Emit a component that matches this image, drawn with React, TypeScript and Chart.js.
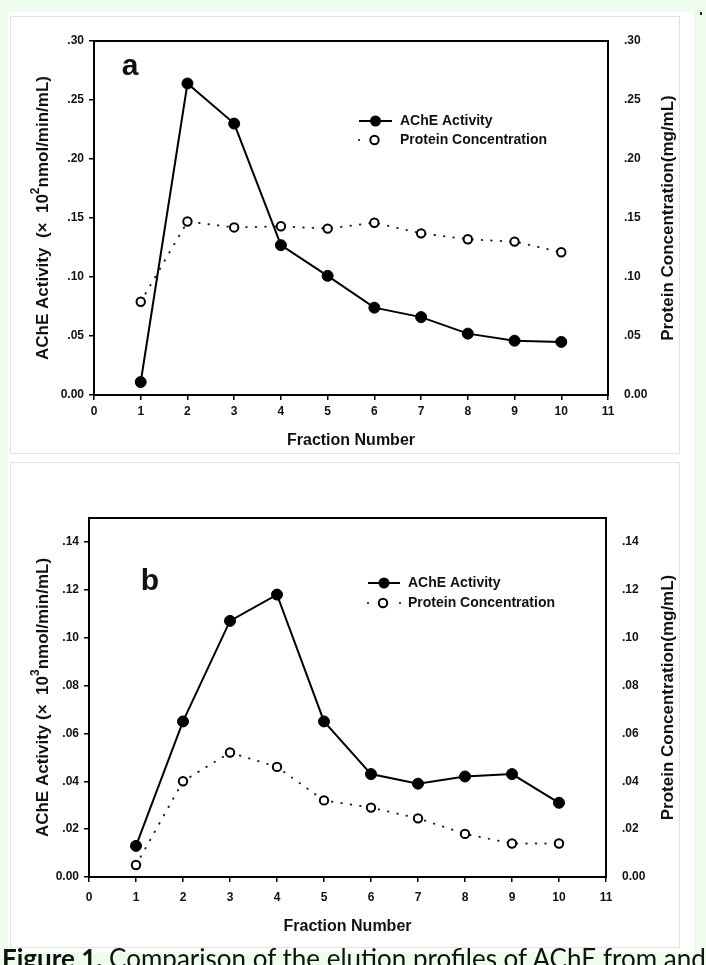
import React, { useEffect, useRef } from "react";
import { Chart, registerables } from "chart.js";

Chart.register(...registerables);

// ---------- data ----------
const fractions = [1, 2, 3, 4, 5, 6, 7, 8, 9, 10];

const acheActivityA = [0.011, 0.264, 0.23, 0.127, 0.101, 0.074, 0.066, 0.052, 0.046, 0.045];
const proteinA = [0.079, 0.147, 0.142, 0.143, 0.141, 0.146, 0.137, 0.132, 0.13, 0.121];

const acheActivityB = [0.013, 0.065, 0.107, 0.118, 0.065, 0.043, 0.039, 0.042, 0.043, 0.031];
const proteinB = [0.005, 0.04, 0.052, 0.046, 0.032, 0.029, 0.0245, 0.018, 0.014, 0.014];

const seriesNames = ["AChE Activity", "Protein Concentration"];
const xAxisTitle = "Fraction Number";
const rightAxisTitle = "Protein Concentration(mg/mL)";
const leftTitleA = ["AChE Activity  (×  10", "2", "nmol/min/mL)"];
const leftTitleB = ["AChE Activity (×  10", "3", "nmol/min/mL)"];
const captionBold = "Figure 1.";
const captionRest = " Comparison of the elution profiles of AChE from and";

// ---------- styles ----------
const INK = "#111111";
const FONT = '"Liberation Sans", Arial, Helvetica, sans-serif';
const GREEN = "#eefcee";

const fmtTick = (v: number) =>
  Math.abs(v) < 1e-9 ? "0.00" : Number(v).toFixed(2).replace(/^0/, "");

type Spec = {
  key: string;
  x: number; y: number; w: number; h: number;
  areaLeft: number; areaRightW: number; areaTop: number; xAxisH: number; xPad: number;
  yMax: number; yStep: number;
  ache: number[]; protein: number[];
  letter: string; letterX: number; letterY: number;
  xTitleY: number; leftTitleX: number; rightTitleX: number;
  leftTitle: string[];
  legY1: number; legY2: number; legX0: number; legX1: number; legTextX: number;
  legDots: number[];
};

const specA: Spec = {
  key: "a",
  x: 10, y: 16, w: 673, h: 438,
  areaLeft: 84, areaRightW: 75, areaTop: 25, xAxisH: 59, xPad: 4,
  yMax: 0.3, yStep: 0.05,
  ache: acheActivityA, protein: proteinA,
  letter: "a", letterX: 120, letterY: 51,
  xTitleY: 425, leftTitleX: 33, rightTitleX: 658,
  leftTitle: leftTitleA,
  legY1: 105, legY2: 124, legX0: 349, legX1: 382, legTextX: 390,
  legDots: [349],
};

const specB: Spec = {
  key: "b",
  x: 10, y: 462, w: 673, h: 486,
  areaLeft: 79, areaRightW: 77, areaTop: 56, xAxisH: 71, xPad: 8,
  yMax: 0.15, yStep: 0.02,
  ache: acheActivityB, protein: proteinB,
  letter: "b", letterX: 140, letterY: 120,
  xTitleY: 465, leftTitleX: 33, rightTitleX: 658,
  leftTitle: leftTitleB,
  legY1: 121, legY2: 141, legX0: 358, legX1: 390, legTextX: 398,
  legDots: [358, 390],
};

const pts = (ys: number[]) => fractions.map((f, i) => ({ x: f, y: ys[i] }));

function buildConfig(s: Spec): any {
  const tickFont = { family: FONT, size: 12, weight: "bold" as const };
  const TITLE = `bold 17px ${FONT}`;
  const decor = {
    id: "decor_" + s.key,
    afterDatasetsDraw(chart: any) {
      const { ctx, chartArea: ca } = chart;
      ctx.save();
      ctx.strokeStyle = "#000";
      ctx.lineWidth = 2;
      ctx.strokeRect(ca.left, ca.top, ca.right - ca.left, ca.bottom - ca.top);

      ctx.fillStyle = INK;
      ctx.textBaseline = "middle";
      ctx.textAlign = "center";
      ctx.font = `bold 30px ${FONT}`;
      ctx.fillText(s.letter, s.letterX, s.letterY);

      ctx.font = `bold 16px ${FONT}`;
      ctx.fillText(xAxisTitle, (ca.left + ca.right) / 2, s.xTitleY);

      const cy = (ca.top + ca.bottom) / 2;
      // left title with superscript
      ctx.save();
      ctx.translate(s.leftTitleX, cy);
      ctx.rotate(-Math.PI / 2);
      const [pre, sup, post] = s.leftTitle;
      ctx.font = TITLE;
      const w1 = ctx.measureText(pre).width;
      const w3 = ctx.measureText(post).width;
      ctx.font = `bold 12px ${FONT}`;
      const w2 = ctx.measureText(sup).width;
      const x0 = -(w1 + w2 + w3) / 2;
      ctx.textAlign = "left";
      ctx.font = TITLE;
      ctx.fillText(pre, x0, 0);
      ctx.font = `bold 12px ${FONT}`;
      ctx.fillText(sup, x0 + w1, -7);
      ctx.font = TITLE;
      ctx.fillText(post, x0 + w1 + w2, 0);
      ctx.restore();

      // right title (reads bottom to top)
      ctx.save();
      ctx.translate(s.rightTitleX, cy);
      ctx.rotate(-Math.PI / 2);
      ctx.textAlign = "center";
      ctx.font = TITLE;
      ctx.fillText(rightAxisTitle, 0, 0);
      ctx.restore();

      // legend
      const mid = (s.legX0 + s.legX1) / 2;
      ctx.strokeStyle = "#000";
      ctx.lineWidth = 2;
      ctx.beginPath();
      ctx.moveTo(s.legX0, s.legY1);
      ctx.lineTo(s.legX1, s.legY1);
      ctx.stroke();
      ctx.fillStyle = "#000";
      ctx.beginPath();
      ctx.arc(mid, s.legY1, 5.5, 0, Math.PI * 2);
      ctx.fill();
      for (const dx of s.legDots) {
        ctx.beginPath();
        ctx.arc(dx, s.legY2, 1, 0, Math.PI * 2);
        ctx.fill();
      }
      ctx.fillStyle = "#fff";
      ctx.lineWidth = 2;
      ctx.beginPath();
      ctx.arc(mid - 1, s.legY2, 4.2, 0, Math.PI * 2);
      ctx.fill();
      ctx.stroke();

      ctx.fillStyle = INK;
      ctx.textAlign = "left";
      ctx.font = `bold 14px ${FONT}`;
      ctx.fillText(seriesNames[0], s.legTextX, s.legY1);
      ctx.fillText(seriesNames[1], s.legTextX, s.legY2);
      ctx.restore();
    },
  };

  return {
    type: "line",
    data: {
      datasets: [
        {
          label: seriesNames[0],
          data: pts(s.ache),
          yAxisID: "y",
          borderColor: "#000",
          borderWidth: 2,
          pointRadius: 5.5,
          pointBackgroundColor: "#000",
          pointBorderColor: "#000",
          pointBorderWidth: 1,
          tension: 0,
          fill: false,
        },
        {
          label: seriesNames[1],
          data: pts(s.protein),
          yAxisID: "y2",
          borderColor: "#222",
          borderWidth: 2,
          borderDash: [0.5, 9],
          borderCapStyle: "round",
          pointRadius: 4.2,
          pointBackgroundColor: "#fff",
          pointBorderColor: "#000",
          pointBorderWidth: 2,
          tension: 0,
          fill: false,
        },
      ],
    },
    options: {
      animation: false,
      responsive: false,
      maintainAspectRatio: false,
      devicePixelRatio: 1,
      layout: { padding: { top: s.areaTop, left: 0, right: 0, bottom: 0 } },
      plugins: { legend: { display: false }, tooltip: { enabled: false } },
      scales: {
        x: {
          type: "linear",
          min: 0,
          max: 11,
          ticks: {
            stepSize: 1,
            color: INK,
            font: tickFont,
            padding: s.xPad,
            maxRotation: 0,
            callback: (v: number) => String(v),
          },
          grid: {
            display: true,
            drawOnChartArea: false,
            drawTicks: true,
            tickLength: 5,
            color: "#000",
            lineWidth: 1.5,
          },
          border: { display: false },
          afterFit: (sc: any) => {
            sc.height = s.xAxisH;
          },
        },
        y: {
          type: "linear",
          position: "left",
          min: 0,
          max: s.yMax,
          ticks: {
            stepSize: s.yStep,
            includeBounds: false,
            color: INK,
            font: tickFont,
            padding: 5,
            callback: (v: number) => fmtTick(v),
          },
          grid: {
            display: true,
            drawOnChartArea: false,
            drawTicks: true,
            tickLength: 5,
            color: "#000",
            lineWidth: 1.5,
          },
          border: { display: false },
          afterFit: (sc: any) => {
            sc.width = s.areaLeft;
          },
        },
        y2: {
          type: "linear",
          position: "right",
          min: 0,
          max: s.yMax,
          ticks: {
            stepSize: s.yStep,
            includeBounds: false,
            color: INK,
            font: tickFont,
            padding: 8,
            callback: (v: number) => fmtTick(v),
          },
          grid: { display: false },
          border: { display: false },
          afterFit: (sc: any) => {
            sc.width = s.areaRightW;
          },
        },
      },
    },
    plugins: [decor],
  };
}

function Panel({ spec }: { spec: Spec }) {
  const ref = useRef<HTMLCanvasElement>(null);
  useEffect(() => {
    const chart = new Chart(ref.current as HTMLCanvasElement, buildConfig(spec));
    return () => chart.destroy();
  }, [spec]);
  return (
    <canvas
      ref={ref}
      width={spec.w}
      height={spec.h}
      style={{ position: "absolute", left: spec.x, top: spec.y, width: spec.w, height: spec.h }}
    />
  );
}

export default function App() {
  return (
    <div
      style={{
        position: "fixed",
        left: 0,
        top: 0,
        width: 706,
        height: 965,
        overflow: "hidden",
        background: GREEN,
      }}
    >
      <div style={{ position: "absolute", left: 8, top: 12, width: 686, height: 940, background: "#fff" }} />
      <div style={{ position: "absolute", left: 10, top: 16, width: 668, height: 436, border: "1px solid #e2e2e2" }} />
      <div style={{ position: "absolute", left: 10, top: 462, width: 668, height: 484, border: "1px solid #e2e2e2" }} />
      <div style={{ position: "absolute", left: 700, top: 12, width: 2, height: 3, background: "#222" }} />
      <Panel spec={specA} />
      <Panel spec={specB} />
      <div
        style={{
          position: "absolute",
          left: 2,
          top: 943,
          width: 704,
          whiteSpace: "nowrap",
          overflow: "hidden",
          fontFamily: "Lato, 'Open Sans', sans-serif",
          fontSize: 26,
          color: "#111",
          lineHeight: "30px",
        }}
      >
        <b>{captionBold}</b>
        {captionRest}
      </div>
    </div>
  );
}
